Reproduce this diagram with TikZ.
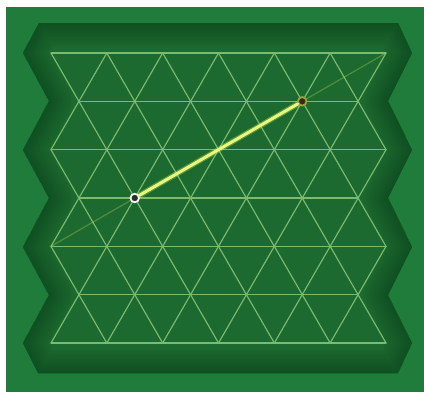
\documentclass[tikz,border=0pt]{standalone}
\usetikzlibrary{calc}
\definecolor{outergreen}{RGB}{32,124,58}
\definecolor{boardgreen}{RGB}{28,106,48}
\definecolor{shadowgreen}{RGB}{14,66,28}
\definecolor{gridcol}{RGB}{124,186,112}
\definecolor{lineyellow}{RGB}{232,248,125}
\definecolor{glowyellow}{RGB}{190,220,80}
\definecolor{olivering}{RGB}{160,158,62}
\definecolor{dotdark}{RGB}{45,45,40}
\tikzset{
  gridline/.style={draw=gridcol, line width=1.15pt, line join=round, line cap=round},
  dotnode/.style={circle, minimum size=8.5pt, inner sep=0pt, fill=dotdark, line width=1.8pt},
  startdot/.style={dotnode, draw=white!92!gridcol},
  enddot/.style={dotnode, draw=olivering, fill=black!70!olivering},
  faintline/.style={draw=glowyellow, opacity=0.3, line width=1.3pt},
  glowline/.style={draw=glowyellow, opacity=0.4, line width=5.5pt, line cap=round},
  coreline/.style={draw=lineyellow, line width=3pt, line cap=round},
}
\begin{document}
\begin{tikzpicture}[x=1pt,y=-1pt]
\useasboundingbox (0,0) rectangle (424,392);
\fill[white] (0,0) rectangle (424,392);
% outer background
\fill[outergreen] (6,7) rectangle (424,392);
% board
\def\boardpath{(39,23) -- (23,53) -- (49,101) -- (23,150) -- (49,198) -- (23,247) -- (49,295) -- (23,343) -- (38,373) -- (398,373) -- (412,343) -- (388,295) -- (412,247) -- (388,198) -- (412,150) -- (388,101) -- (412,53) -- (398,23) -- cycle}
\fill[boardgreen] \boardpath;
\begin{scope}
  \clip \boardpath;
  \foreach \w in {4,8,...,48} {
    \draw[shadowgreen, opacity=0.06, line width=\w pt, line join=round] \boardpath;
  }
\end{scope}
% triangular grid
\def\s{55.833}
\def\h{48.333}
\foreach \r in {0,...,6} {
  \pgfmathtruncatemacro\odd{mod(\r,2)}
  \ifnum\odd=0
    \draw[gridline] ({51},{53+\r*\h}) -- ({51+6*\s},{53+\r*\h});
  \else
    \draw[gridline] ({51+0.5*\s},{53+\r*\h}) -- ({51+5.5*\s},{53+\r*\h});
  \fi
}
\foreach \r in {0,...,5} {
  \pgfmathtruncatemacro\odd{mod(\r,2)}
  \ifnum\odd=0
    \foreach \i in {0,...,6} {
      \ifnum\i>0 \draw[gridline] ({51+\i*\s},{53+\r*\h}) -- ({51+(\i-0.5)*\s},{53+(\r+1)*\h}); \fi
      \ifnum\i<6 \draw[gridline] ({51+\i*\s},{53+\r*\h}) -- ({51+(\i+0.5)*\s},{53+(\r+1)*\h}); \fi
    }
  \else
    \foreach \j in {0,...,5} {
      \draw[gridline] ({51+(\j+0.5)*\s},{53+\r*\h}) -- ({51+\j*\s},{53+(\r+1)*\h});
      \draw[gridline] ({51+(\j+0.5)*\s},{53+\r*\h}) -- ({51+(\j+1)*\s},{53+(\r+1)*\h});
    }
  \fi
}
% extension line through the whole grid
\coordinate (P) at ({51},{53+4*\h});
\coordinate (Q) at ({51+6*\s},{53});
\draw[faintline] (P) -- (Q);
% points
\coordinate (a) at ({51+1.5*\s},{53+3*\h});
\coordinate (b) at ({51+4.5*\s},{53+1*\h});
\draw[glowline] (a) -- (b);
\node[startdot] (A) at (a) {};
\node[enddot] (B) at (b) {};
\draw[coreline] (A) -- (B);
\end{tikzpicture}
\end{document}
